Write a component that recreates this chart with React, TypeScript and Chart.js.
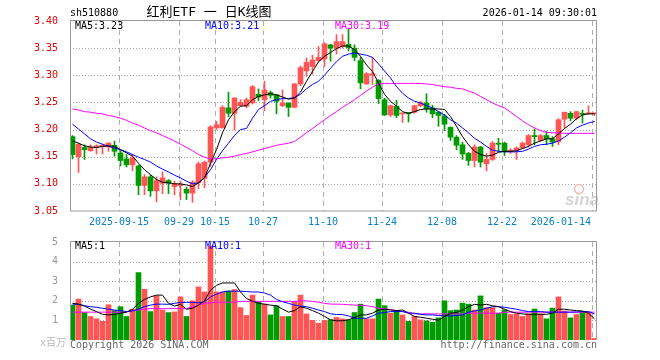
import React, { useEffect, useRef } from 'react';
import { Chart, registerables } from 'chart.js';
Chart.register(...registerables);

// ---- categories / tick labels ----
const tickIndex = [8, 18, 24, 32, 42, 52, 62, 72, 87];
const tickLabels = ['2025-09-15', '09-29', '10-15', '10-27', '11-10', '11-24', '12-08', '12-22', '2026-01-14'];

// ---- price data (OHLC) ----
const openP = [3.187,3.150,3.167,3.161,3.167,3.169,3.168,3.171,3.157,3.146,3.135,3.133,3.097,3.113,3.087,3.101,3.106,3.095,3.097,3.090,3.083,3.102,3.110,3.140,3.203,3.203,3.240,3.230,3.244,3.243,3.249,3.265,3.255,3.268,3.264,3.244,3.249,3.241,3.284,3.308,3.316,3.327,3.330,3.356,3.350,3.353,3.357,3.350,3.327,3.284,3.300,3.291,3.255,3.227,3.243,3.229,3.231,3.232,3.244,3.249,3.240,3.232,3.225,3.204,3.186,3.172,3.156,3.143,3.168,3.137,3.145,3.175,3.175,3.159,3.162,3.166,3.172,3.189,3.180,3.189,3.183,3.178,3.219,3.230,3.221,3.230,3.229,3.229];
const highP = [3.189,3.175,3.172,3.172,3.172,3.173,3.176,3.179,3.161,3.154,3.154,3.135,3.117,3.116,3.113,3.122,3.108,3.105,3.105,3.094,3.106,3.140,3.142,3.207,3.215,3.244,3.269,3.259,3.255,3.258,3.281,3.275,3.289,3.271,3.265,3.273,3.249,3.285,3.317,3.332,3.337,3.353,3.360,3.357,3.375,3.375,3.387,3.356,3.333,3.305,3.333,3.292,3.258,3.245,3.254,3.230,3.231,3.245,3.252,3.266,3.245,3.234,3.228,3.205,3.189,3.177,3.158,3.172,3.169,3.156,3.178,3.184,3.177,3.165,3.168,3.177,3.191,3.201,3.191,3.197,3.187,3.220,3.232,3.233,3.234,3.236,3.244,3.230];
const lowP = [3.146,3.121,3.145,3.160,3.155,3.155,3.160,3.151,3.133,3.131,3.124,3.080,3.080,3.077,3.067,3.082,3.082,3.080,3.071,3.071,3.066,3.091,3.093,3.132,3.200,3.203,3.224,3.199,3.243,3.240,3.247,3.253,3.235,3.258,3.229,3.242,3.224,3.240,3.281,3.298,3.302,3.325,3.316,3.326,3.339,3.350,3.345,3.327,3.275,3.283,3.283,3.248,3.226,3.224,3.222,3.213,3.214,3.230,3.242,3.232,3.222,3.206,3.198,3.180,3.163,3.145,3.134,3.131,3.131,3.124,3.143,3.159,3.152,3.156,3.145,3.165,3.168,3.172,3.178,3.172,3.169,3.172,3.203,3.216,3.218,3.212,3.228,3.226];
const closeP = [3.154,3.173,3.163,3.167,3.170,3.171,3.175,3.160,3.143,3.135,3.148,3.097,3.113,3.087,3.106,3.111,3.101,3.100,3.098,3.083,3.103,3.137,3.140,3.205,3.209,3.241,3.230,3.258,3.250,3.255,3.279,3.260,3.273,3.263,3.252,3.249,3.241,3.284,3.314,3.324,3.328,3.333,3.358,3.350,3.362,3.362,3.351,3.333,3.286,3.303,3.303,3.257,3.227,3.244,3.226,3.230,3.229,3.244,3.250,3.238,3.229,3.226,3.210,3.186,3.171,3.155,3.143,3.168,3.140,3.145,3.175,3.173,3.159,3.162,3.166,3.175,3.189,3.187,3.189,3.183,3.177,3.218,3.232,3.221,3.233,3.228,3.231,3.230];

// ---- price moving averages ----
const ma5 = [3.179,3.175,3.170,3.168,3.167,3.169,3.170,3.169,3.163,3.157,3.151,3.138,3.126,3.117,3.108,3.103,3.102,3.100,3.100,3.098,3.095,3.102,3.111,3.138,3.163,3.194,3.218,3.233,3.243,3.244,3.255,3.261,3.264,3.266,3.264,3.260,3.256,3.258,3.269,3.289,3.307,3.325,3.335,3.342,3.349,3.354,3.354,3.347,3.335,3.319,3.307,3.286,3.265,3.252,3.243,3.233,3.230,3.233,3.237,3.238,3.238,3.238,3.237,3.224,3.206,3.187,3.172,3.160,3.154,3.151,3.153,3.158,3.160,3.160,3.161,3.165,3.169,3.175,3.179,3.183,3.183,3.192,3.202,3.210,3.220,3.227,3.229,3.229];
const ma10 = [3.210,3.201,3.192,3.183,3.177,3.173,3.169,3.166,3.163,3.159,3.154,3.149,3.145,3.140,3.133,3.127,3.122,3.116,3.111,3.105,3.100,3.102,3.112,3.126,3.145,3.161,3.175,3.189,3.200,3.202,3.221,3.237,3.244,3.252,3.255,3.257,3.257,3.259,3.265,3.275,3.283,3.289,3.300,3.313,3.325,3.335,3.339,3.341,3.339,3.337,3.333,3.321,3.308,3.295,3.279,3.267,3.258,3.252,3.249,3.244,3.240,3.233,3.227,3.218,3.212,3.203,3.194,3.184,3.177,3.169,3.162,3.160,3.159,3.159,3.159,3.160,3.164,3.169,3.172,3.173,3.175,3.179,3.186,3.194,3.203,3.208,3.212,3.215];
const ma30 = [3.238,3.236,3.233,3.232,3.230,3.229,3.226,3.224,3.221,3.217,3.212,3.208,3.203,3.198,3.194,3.189,3.184,3.179,3.173,3.167,3.161,3.154,3.149,3.146,3.146,3.148,3.149,3.151,3.154,3.156,3.159,3.162,3.165,3.168,3.171,3.173,3.175,3.178,3.186,3.194,3.202,3.210,3.218,3.226,3.233,3.241,3.248,3.255,3.263,3.271,3.278,3.284,3.285,3.285,3.285,3.285,3.285,3.285,3.285,3.284,3.283,3.281,3.279,3.278,3.276,3.275,3.271,3.267,3.261,3.255,3.249,3.244,3.240,3.232,3.224,3.216,3.209,3.203,3.198,3.195,3.194,3.194,3.193,3.193,3.193,3.193,3.193,3.193];

// ---- volume (x 1,000,000) ----
const volume = [1.78,2.09,1.40,1.20,1.08,0.95,1.80,1.50,1.70,1.20,1.57,3.44,2.59,1.45,2.25,1.53,1.40,1.43,2.20,1.20,2.00,2.71,2.45,4.80,2.45,2.45,2.50,2.57,1.65,1.25,2.29,1.95,1.83,1.28,1.75,1.20,1.20,1.95,2.29,1.33,1.00,0.85,1.00,1.03,1.15,1.08,1.03,1.40,1.83,1.08,1.08,2.09,1.75,1.37,1.50,1.28,0.95,1.20,1.03,0.98,0.90,1.13,2.00,1.50,1.53,1.88,1.83,1.53,2.25,1.65,1.65,1.37,1.53,1.30,1.33,1.20,1.33,1.58,1.33,1.08,1.63,2.20,1.48,1.13,1.30,1.42,1.42,0.08];
const vma5 = [1.87,1.83,1.73,1.58,1.45,1.31,1.28,1.31,1.37,1.42,1.57,1.87,2.07,2.20,2.29,2.29,1.87,1.73,1.82,1.57,1.62,1.78,2.00,2.54,2.79,2.91,2.91,2.91,2.45,2.12,1.98,1.87,1.83,1.78,1.75,1.58,1.42,1.50,1.70,1.62,1.50,1.37,1.20,1.03,0.98,0.98,1.03,1.15,1.28,1.28,1.37,1.53,1.57,1.53,1.50,1.53,1.37,1.20,1.16,1.11,1.06,1.01,1.20,1.37,1.40,1.53,1.70,1.82,1.78,1.82,1.75,1.70,1.57,1.45,1.37,1.33,1.31,1.31,1.31,1.31,1.37,1.57,1.57,1.53,1.50,1.48,1.37,1.08];
const vma10 = [1.83,1.82,1.75,1.70,1.67,1.62,1.57,1.53,1.50,1.45,1.48,1.58,1.70,1.78,1.83,1.83,1.82,1.87,1.92,1.92,1.92,1.90,1.95,2.20,2.34,2.45,2.49,2.49,2.49,2.47,2.45,2.45,2.40,2.29,2.07,1.95,1.87,1.78,1.73,1.70,1.62,1.53,1.45,1.34,1.30,1.30,1.23,1.11,1.11,1.11,1.23,1.37,1.40,1.45,1.45,1.45,1.37,1.37,1.31,1.28,1.28,1.25,1.23,1.23,1.25,1.28,1.42,1.48,1.53,1.62,1.70,1.70,1.67,1.62,1.57,1.50,1.45,1.45,1.45,1.42,1.42,1.42,1.42,1.42,1.43,1.45,1.45,1.33];
const vma30 = [1.42,1.42,1.42,1.42,1.42,1.42,1.42,1.42,1.42,1.43,1.50,1.53,1.57,1.60,1.60,1.60,1.60,1.60,1.60,1.60,1.70,1.78,1.87,1.90,1.93,1.93,1.93,1.93,1.97,1.97,1.97,1.97,1.97,1.97,1.97,1.97,1.97,1.97,2.00,2.00,1.97,1.93,1.87,1.83,1.83,1.82,1.80,1.78,1.77,1.75,1.70,1.62,1.60,1.55,1.50,1.45,1.42,1.33,1.33,1.33,1.33,1.33,1.33,1.33,1.33,1.33,1.37,1.37,1.37,1.37,1.37,1.37,1.42,1.42,1.42,1.42,1.42,1.42,1.42,1.42,1.42,1.42,1.42,1.42,1.42,1.42,1.42,1.42];

const RED = '#ff5555';
const GREEN = '#009b00';
const MONO = '"DejaVu Sans Mono", monospace';
const X_MIN = -0.41667;
const X_MAX = 87.41667;

const candleColors = closeP.map((c, i) => (c >= openP[i] ? RED : GREEN));

function drawGrid(chart: any, hValues: number[]) {
  const { ctx, chartArea } = chart;
  const { left, right, top, bottom } = chartArea;
  const xs = chart.scales.x;
  const ys = chart.scales.y;
  ctx.save();
  ctx.lineWidth = 1;
  ctx.strokeStyle = '#a8a8a8';
  ctx.setLineDash([1, 2]);
  hValues.forEach((v) => {
    const py = Math.round(ys.getPixelForValue(v)) + 0.5;
    ctx.beginPath();
    ctx.moveTo(left, py);
    ctx.lineTo(right, py);
    ctx.stroke();
  });
  ctx.setLineDash([5, 4]);
  ctx.strokeStyle = '#b0b0b0';
  tickIndex.forEach((i) => {
    const px = Math.round(xs.getPixelForValue(i)) - 2 - 0.5 + 1;
    ctx.beginPath();
    ctx.moveTo(px, top);
    ctx.lineTo(px, bottom);
    ctx.stroke();
  });
  ctx.restore();
}

const pricePlugin = {
  id: 'priceDecor',
  beforeDatasetsDraw(chart: any) {
    drawGrid(chart, [3.10, 3.15, 3.20, 3.25, 3.30, 3.35]);
    const { ctx } = chart;
    // sina watermark
    ctx.save();
    ctx.strokeStyle = '#f2b8b8';
    ctx.lineWidth = 1.5;
    ctx.beginPath();
    ctx.arc(579, 189, 4.5, 0, Math.PI * 2);
    ctx.stroke();
    ctx.fillStyle = '#d4d4d4';
    ctx.font = 'italic bold 17px "Liberation Sans", sans-serif';
    ctx.textAlign = 'center';
    ctx.textBaseline = 'alphabetic';
    ctx.fillText('sina', 582, 205);
    ctx.restore();
  },
  afterDraw(chart: any) {
    const { ctx, chartArea } = chart;
    const { left, right, top, bottom } = chartArea;
    const xs = chart.scales.x;
    ctx.save();
    ctx.strokeStyle = '#999';
    ctx.lineWidth = 1;
    ctx.setLineDash([]);
    ctx.strokeRect(left + 0.5, top - 0.5, right - left - 1, bottom - top + 0.5);
    ctx.textBaseline = 'middle';
    ctx.font = '10px ' + MONO;
    ctx.fillStyle = '#000';
    ctx.textAlign = 'left';
    ctx.fillText('sh510880', 70, 13);
    ctx.textAlign = 'right';
    ctx.fillText('2026-01-14 09:30:01', 597, 13);
    ctx.textAlign = 'center';
    ctx.font = '13px ' + MONO + ', "Noto Sans CJK SC"';
    ctx.fillText('红利ETF 一 日K线图', 209, 13);
    ctx.font = '10px ' + MONO;
    ctx.textAlign = 'left';
    ctx.fillStyle = '#000';
    ctx.fillText('MA5:' + ma5[ma5.length - 1].toFixed(2), 75, 26);
    ctx.fillStyle = '#0000ff';
    ctx.fillText('MA10:' + ma10[ma10.length - 1].toFixed(2), 205, 26);
    ctx.fillStyle = '#ff00ff';
    ctx.fillText('MA30:' + ma30[ma30.length - 1].toFixed(2), 335, 26);
    // x labels
    ctx.fillStyle = '#0a80c8';
    tickIndex.forEach((idx, k) => {
      const px = Math.round(xs.getPixelForValue(idx)) - 2;
      const last = k === tickIndex.length - 1;
      ctx.textAlign = last ? 'right' : 'center';
      ctx.fillText(tickLabels[k], last ? px - 1 : px, 222);
    });
    ctx.restore();
  },
};

const volPlugin = {
  id: 'volDecor',
  beforeDatasetsDraw(chart: any) {
    drawGrid(chart, [1, 2, 3, 4]);
  },
  afterDraw(chart: any) {
    const { ctx, chartArea } = chart;
    const { left, right, top, bottom } = chartArea;
    ctx.save();
    ctx.strokeStyle = '#999';
    ctx.lineWidth = 1;
    ctx.beginPath();
    ctx.moveTo(left + 0.5, bottom);
    ctx.lineTo(left + 0.5, top - 0.5);
    ctx.lineTo(right - 0.5, top - 0.5);
    ctx.lineTo(right - 0.5, bottom);
    ctx.stroke();
    ctx.textBaseline = 'middle';
    ctx.font = '10px ' + MONO;
    ctx.textAlign = 'left';
    ctx.fillStyle = '#000';
    ctx.fillText('MA5:' + Math.round(vma5[vma5.length - 1]), 75, 14);
    ctx.fillStyle = '#0000ff';
    ctx.fillText('MA10:' + Math.round(vma10[vma10.length - 1]), 205, 14);
    ctx.fillStyle = '#ff00ff';
    ctx.fillText('MA30:' + Math.round(vma30[vma30.length - 1]), 335, 14);
    ctx.fillStyle = '#666';
    ctx.fillText('Copyright 2026 SINA.COM', 70, 113);
    ctx.textAlign = 'right';
    ctx.fillText('http://finance.sina.com.cn', 597, 113);
    ctx.fillStyle = '#b8b8b8';
    ctx.font = '10px ' + MONO + ', "Noto Sans CJK SC"';
    ctx.fillText('x百万', 66, 111);
    ctx.restore();
  },
};

const lineDs = (arr: number[], color: string) => ({
  type: 'line' as const,
  data: arr.map((v, i) => ({ x: i, y: v })),
  borderColor: color,
  borderWidth: 1,
  pointRadius: 0,
  tension: 0,
  order: 0,
});

export default function App() {
  const priceRef = useRef<HTMLCanvasElement>(null);
  const volRef = useRef<HTMLCanvasElement>(null);

  useEffect(() => {
    document.body.style.margin = '0';
    const xScale = { type: 'linear' as const, min: X_MIN, max: X_MAX, display: false, offset: false };
    const price = new Chart(priceRef.current!, {
      type: 'bar',
      data: {
        datasets: [
          lineDs(ma5, '#000000'),
          lineDs(ma10, '#0000ff'),
          lineDs(ma30, '#ff00ff'),
          {
            type: 'bar',
            data: openP.map((o, i) => ({ x: i, y: [Math.min(o, closeP[i]), Math.max(o, closeP[i])] })) as any,
            backgroundColor: candleColors,
            barThickness: 5,
            minBarLength: 1,
            grouped: false,
            order: 1,
          },
          {
            type: 'bar',
            data: lowP.map((l, i) => ({ x: i, y: [l, highP[i]] })) as any,
            backgroundColor: candleColors,
            barThickness: 1,
            minBarLength: 1,
            grouped: false,
            order: 2,
          },
        ] as any,
      },
      options: {
        animation: false,
        responsive: false,
        maintainAspectRatio: false,
        devicePixelRatio: 1,
        events: [],
        layout: { padding: { left: 0, right: 63, top: 21, bottom: 21 } },
        plugins: { legend: { display: false }, tooltip: { enabled: false } },
        scales: {
          x: xScale as any,
          y: {
            min: 3.05,
            max: 3.4,
            afterFit: (s: any) => { s.width = 70; },
            grid: { display: false },
            border: { display: false },
            ticks: {
              stepSize: 0.05,
              color: '#e60000',
              padding: 4,
              font: { family: 'DejaVu Sans Mono', size: 10 },
              callback: (v: any) => Number(v).toFixed(2),
            },
          },
        },
      },
      plugins: [pricePlugin],
    });

    const vol = new Chart(volRef.current!, {
      type: 'bar',
      data: {
        datasets: [
          lineDs(vma5, '#000000'),
          lineDs(vma10, '#0000ff'),
          lineDs(vma30, '#ff00ff'),
          {
            type: 'bar',
            data: volume.map((v, i) => ({ x: i, y: v })) as any,
            backgroundColor: candleColors,
            barThickness: 5,
            grouped: false,
            order: 1,
          },
        ] as any,
      },
      options: {
        animation: false,
        responsive: false,
        maintainAspectRatio: false,
        devicePixelRatio: 1,
        events: [],
        layout: { padding: { left: 0, right: 63, top: 9, bottom: 20 } },
        plugins: { legend: { display: false }, tooltip: { enabled: false } },
        scales: {
          x: xScale as any,
          y: {
            min: 0,
            max: 5,
            afterFit: (s: any) => { s.width = 70; },
            grid: { display: false },
            border: { display: false },
            ticks: {
              stepSize: 1,
              color: '#999',
              padding: 4,
              font: { family: 'DejaVu Sans Mono', size: 10 },
              callback: (v: any) => (Number(v) === 0 ? '' : String(v)),
            },
          },
        },
      },
      plugins: [volPlugin],
    });

    return () => {
      price.destroy();
      vol.destroy();
    };
  }, []);

  return (
    <div style={{ position: 'absolute', left: 0, top: 0, width: 660, height: 360, background: '#fff' }}>
      <canvas ref={priceRef} width={660} height={232} style={{ position: 'absolute', left: 0, top: 0 }} />
      <canvas ref={volRef} width={660} height={128} style={{ position: 'absolute', left: 0, top: 232 }} />
    </div>
  );
}
